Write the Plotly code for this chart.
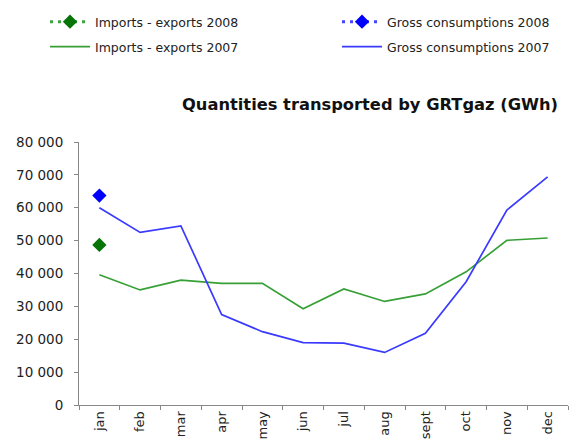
import plotly.graph_objects as go

months = ["jan", "feb", "mar", "apr", "may", "jun", "jul", "aug", "sept", "oct", "nov", "dec"]
gross_2007 = [60000, 52500, 54500, 27500, 22300, 19000, 18800, 16000, 21800, 37500, 59300, 69400]
imports_2007 = [39600, 35000, 38000, 37000, 37000, 29300, 35300, 31500, 33800, 40500, 50100, 50800]
imports_2008 = [48700]
gross_2008 = [63700]
months_2008 = ["jan"]
y_ticks = [0, 10000, 20000, 30000, 40000, 50000, 60000, 70000, 80000]
y_ticktext = ["0", "10 000", "20 000", "30 000", "40 000", "50 000", "60 000", "70 000", "80 000"]

font = "DejaVu Sans, Arial, sans-serif"
W, H = 573, 445

fig = go.Figure()
fig.add_trace(go.Scatter(x=months_2008, y=imports_2008, name="Imports - exports 2008",
                         mode="lines+markers", legend="legend",
                         line=dict(color="#3FA63F", width=3, dash="3px,5px"),
                         marker=dict(symbol="diamond", size=11, color="#067406")))
fig.add_trace(go.Scatter(x=months_2008, y=gross_2008, name="Gross consumptions 2008",
                         mode="lines+markers", legend="legend3",
                         line=dict(color="#4444FF", width=3, dash="3px,5px"),
                         marker=dict(symbol="diamond", size=11, color="#0000FF")))
fig.add_trace(go.Scatter(x=months, y=imports_2007, name="Imports - exports 2007",
                         mode="lines", legend="legend2",
                         line=dict(color="#36A036", width=1.7)))
fig.add_trace(go.Scatter(x=months, y=gross_2007, name="Gross consumptions 2007",
                         mode="lines", legend="legend4",
                         line=dict(color="#3A3AFF", width=1.7)))

leg_common = dict(orientation="h", xref="container", yref="container",
                  xanchor="left", yanchor="middle", itemwidth=40,
                  font=dict(size=12.5, family=font, color="#222"),
                  bgcolor="rgba(0,0,0,0)", borderwidth=0)
col1_x = 45 / W
col2_x = 337 / W
row1_y = 1 - 22 / H
row2_y = 1 - 47 / H

fig.update_layout(
    width=W, height=H,
    margin=dict(l=79, r=5, t=142, b=40),
    paper_bgcolor="white", plot_bgcolor="white",
    font=dict(family=font, size=13, color="#222"),
    title=dict(text="<b>Quantities transported by GRTgaz (GWh)</b>",
               xref="container", x=370 / W, xanchor="center",
               yref="container", y=1 - 104 / H, yanchor="middle",
               font=dict(size=16.3, color="#111", family=font)),
    legend=dict(**leg_common, x=col1_x, y=row1_y),
    legend2=dict(**leg_common, x=col1_x, y=row2_y),
    legend3=dict(**leg_common, x=col2_x, y=row1_y),
    legend4=dict(**leg_common, x=col2_x, y=row2_y),
    showlegend=True,
)
fig.update_xaxes(type="category", categoryorder="array", categoryarray=months,
                 range=[-0.5, len(months) - 0.5],
                 showgrid=False, showline=True, linecolor="#888", linewidth=1,
                 ticks="outside", tickson="boundaries", ticklen=4, tickcolor="#888",
                 tickangle=-90, tickfont=dict(size=13, family=font, color="#222"))
fig.update_yaxes(range=[0, 80000], tickvals=y_ticks, ticktext=y_ticktext,
                 showgrid=False, showline=True, linecolor="#888", linewidth=1,
                 ticks="outside", ticklen=4, tickcolor="#888", zeroline=False,
                 ticklabelstandoff=8,
                 tickfont=dict(size=13.5, family=font, color="#222"))

fig.write_html("out.html", config={"displayModeBar": False},
               post_script=["document.body.style.margin='0';"])
